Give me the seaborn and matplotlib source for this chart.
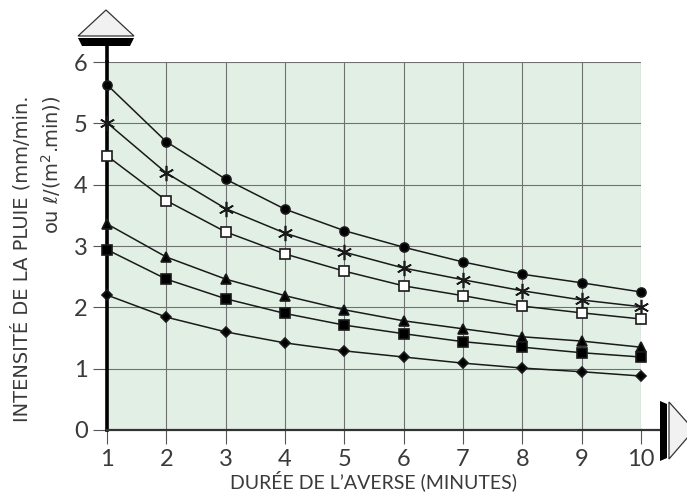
import numpy as np
import pandas as pd
import matplotlib
matplotlib.use('Agg')
import matplotlib.pyplot as plt
from matplotlib.patches import Polygon
import seaborn as sns

# durée de l'averse (minutes)
duree = [1, 2, 3, 4, 5, 6, 7, 8, 9, 10]

# intensités (mm/min), une courbe par symbole
rond = [5.63, 4.70, 4.09, 3.60, 3.25, 2.98, 2.74, 2.54, 2.40, 2.25]
etoile = [5.01, 4.19, 3.61, 3.21, 2.90, 2.64, 2.45, 2.27, 2.12, 2.01]
carre_vide = [4.47, 3.74, 3.23, 2.87, 2.59, 2.35, 2.19, 2.02, 1.91, 1.81]
triangle = [3.36, 2.82, 2.46, 2.19, 1.96, 1.78, 1.65, 1.52, 1.45, 1.35]
carre_plein = [2.94, 2.46, 2.14, 1.90, 1.71, 1.57, 1.44, 1.35, 1.26, 1.19]
losange = [2.20, 1.84, 1.60, 1.42, 1.29, 1.19, 1.09, 1.01, 0.95, 0.88]

x_ticks = list(range(1, 11))
y_ticks = list(range(0, 7))

sns.set_style('white')
plt.rcParams['font.family'] = ['Lato', 'DejaVu Sans']
txt = '#3a3a3a'

fig = plt.figure(figsize=(6.87, 4.92), dpi=100)
W, H = 687.0, 492.0
ax = fig.add_axes([107 / W, 1 - 430 / H, (641 - 107) / W, (430 - 62) / H])
ax.set_facecolor('#e2efe5')

series = [
    (rond, 'o', 'black', 6.5),
    (etoile, (6, 2, 0), 'black', 11),
    (carre_vide, 's', 'white', 7),
    (triangle, '^', 'black', 7),
    (carre_plein, 's', 'black', 7),
    (losange, 'D', 'black', 5),
]
for vals, mk, fc, ms in series:
    df = pd.DataFrame({'duree': duree, 'val': vals})
    sns.lineplot(data=df, x='duree', y='val', ax=ax, color='#1a1a1a', lw=1.1,
                 marker=mk, markersize=ms, markerfacecolor=fc,
                 markeredgecolor='#1a1a1a', markeredgewidth=1.2, zorder=3,
                 clip_on=False)

ax.set_xlim(1, 10)
ax.set_ylim(0, 6)
ax.set_xticks(x_ticks)
ax.set_yticks(y_ticks)
ax.grid(True, color='#707070', lw=0.8)
ax.set_axisbelow(True)

for s in ['top', 'right']:
    ax.spines[s].set_visible(False)
ax.spines['left'].set_color('black')
ax.spines['left'].set_linewidth(2.6)
ax.spines['bottom'].set_color('#333333')
ax.spines['bottom'].set_linewidth(1.6)

ax.tick_params(direction='out', length=10, width=0.8, color='#555555',
               labelsize=17, labelcolor=txt, pad=4, left=True, bottom=True)

# prolongement des axes vers les flèches
ax.plot([0, 0], [1, 1 + 16 / 368], transform=ax.transAxes, color='black',
        lw=2.6, clip_on=False, solid_capstyle='butt')
ax.plot([1, 1 + 19 / 534], [0, 0], transform=ax.transAxes, color='#333333',
        lw=1.6, clip_on=False, solid_capstyle='butt')


def px(pts):
    return [(x / W, 1 - y / H) for x, y in pts]


# flèche verticale
fig.patches.append(Polygon(px([(78, 38), (134, 38), (130, 46), (82, 46)]),
                           closed=True, transform=fig.transFigure,
                           fc='black', ec='none'))
fig.patches.append(Polygon(px([(78, 36), (134, 36), (106, 10)]), closed=True,
                           transform=fig.transFigure, fc='#f1f1f1',
                           ec='#333333', lw=0.9))
# flèche horizontale
fig.patches.append(Polygon(px([(660, 401), (667, 404), (667, 458), (660, 461)]),
                           closed=True, transform=fig.transFigure,
                           fc='black', ec='none'))
fig.patches.append(Polygon(px([(669, 402), (669, 459), (694, 430)]),
                           closed=True, transform=fig.transFigure,
                           fc='#f1f1f1', ec='#333333', lw=0.9))

ax.set_xlabel('DURÉE DE L\u2019AVERSE (MINUTES)', fontsize=14, color=txt,
              labelpad=0)
ax.set_ylabel('')
fig.text(37 / W, 1 - 96 / H,
         'INTENSITÉ DE LA PLUIE (mm/min.\nou $\\ell$/(m$^2$.min))',
         rotation=90, ha='center', va='top', multialignment='right',
         fontsize=14, color=txt, linespacing=1.35,
         family=['DejaVu Sans'])

fig.savefig('out.png', dpi=100)
